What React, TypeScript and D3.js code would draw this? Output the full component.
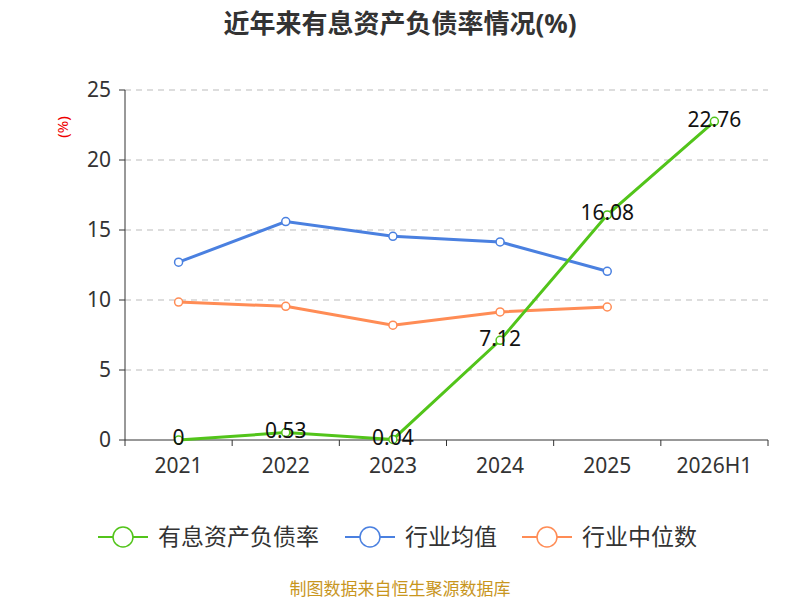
import * as d3 from 'd3';

const categories = ['2021', '2022', '2023', '2024', '2025', '2026H1'];
const debtRatio = [0, 0.53, 0.04, 7.12, 16.08, 22.76];
const industryAvg = [12.7, 15.6, 14.55, 14.15, 12.05];
const industryMedian = [9.85, 9.55, 8.2, 9.15, 9.5];
const yTicks = [0, 5, 10, 15, 20, 25];

const series = [
  { name: '有息资产负债率', color: '#52c41a', values: debtRatio },
  { name: '行业均值', color: '#4a80e0', values: industryAvg },
  { name: '行业中位数', color: '#ff8c55', values: industryMedian },
];

const font = '"Noto Sans", "Noto Sans CJK SC", sans-serif';

export default function App() {
  const margin = { left: 125, right: 768, top: 90, bottom: 440 };
  const x = d3.scaleBand().domain(categories).range([margin.left, margin.right]);
  const y = d3.scaleLinear().domain([0, 25]).range([margin.bottom, margin.top]);
  const cx = (i: number) => x(categories[i])! + x.bandwidth() / 2;
  const line = d3.line<number>().x((_, i) => cx(i)).y(d => y(d));

  return (
    <svg width={800} height={600} style={{ position: 'absolute', left: 0, top: 0, fontFamily: font }}>
      <rect width={800} height={600} fill="#fff" />
      <text x={400} y={33} textAnchor="middle" fontSize={26} fontWeight="bold" fill="#333">近年来有息资产负债率情况(%)</text>
      <text transform="translate(68,127) rotate(-90)" textAnchor="middle" fontSize={15} fill="#e00">(%)</text>
      {yTicks.map(t => (
        <g key={t}>
          {t > 0 && <line x1={margin.left} x2={margin.right} y1={y(t)} y2={y(t)} stroke="#bbb" strokeDasharray="6,5" />}
          <line x1={margin.left - 6} x2={margin.left} y1={y(t)} y2={y(t)} stroke="#333" />
          <text x={margin.left - 14} y={y(t)} dy="0.35em" textAnchor="end" fontSize={21} fill="#333">{t}</text>
        </g>
      ))}
      <line x1={margin.left} x2={margin.left} y1={margin.top} y2={margin.bottom} stroke="#333" />
      <line x1={margin.left} x2={margin.right} y1={margin.bottom} y2={margin.bottom} stroke="#333" />
      {categories.map((c, i) => (
        <g key={c}>
          <line x1={x(c)!} x2={x(c)!} y1={margin.bottom} y2={margin.bottom + 6} stroke="#333" />
          <text x={cx(i)} y={473} textAnchor="middle" fontSize={21} fill="#333">{c}</text>
        </g>
      ))}
      <line x1={margin.right} x2={margin.right} y1={margin.bottom} y2={margin.bottom + 6} stroke="#333" />
      {[series[1], series[2], series[0]].map(s => (
        <g key={s.name}>
          <path d={line(s.values)!} fill="none" stroke={s.color} strokeWidth={3} />
          {s.values.map((v, i) => (
            <circle key={i} cx={cx(i)} cy={y(v)} r={4} fill="#fff" stroke={s.color} strokeWidth={1.5} />
          ))}
        </g>
      ))}
      {debtRatio.map((v, i) => (
        <text key={i} x={cx(i)} y={y(v) - 2} dy="0.35em" textAnchor="middle" fontSize={21} fill="#111">{v}</text>
      ))}
      {series.map((s, i) => {
        const lx = [98, 345, 522][i];
        return (
          <g key={s.name}>
            <line x1={lx} x2={lx + 50} y1={537} y2={537} stroke={s.color} strokeWidth={2} />
            <circle cx={lx + 25} cy={537} r={10} fill="#fff" stroke={s.color} strokeWidth={1.5} />
            <text x={lx + 60} y={537} dy="0.35em" fontSize={23} fill="#333">{s.name}</text>
          </g>
        );
      })}
      <text x={400} y={595} textAnchor="middle" fontSize={17} fill="#c8961e">制图数据来自恒生聚源数据库</text>
    </svg>
  );
}
